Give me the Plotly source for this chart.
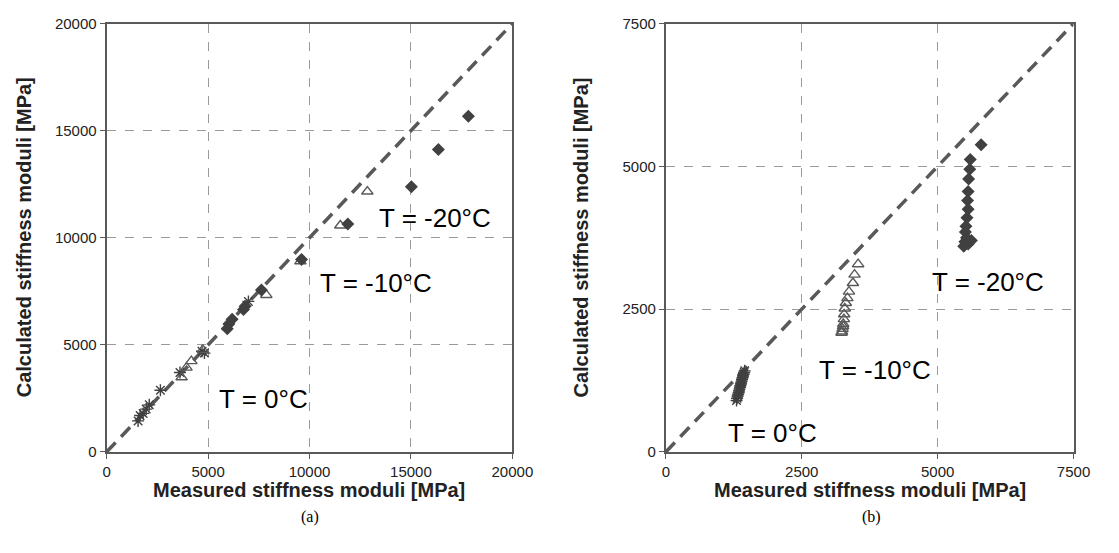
import plotly.graph_objects as go

W, H = 1119, 553

# ---------------- data (a) ----------------
meas0_a = [1550, 1650, 1800, 1950, 2100, 2650, 3614, 4700, 4819, 6988]
calc0_a = [1450, 1700, 1800, 2000, 2200, 2882, 3710, 4700, 4615, 7028]
meas10_a = [3695, 3936, 4177, 4739, 7871, 9550, 11518, 12851]
calc10_a = [3484, 3937, 4238, 4766, 7330, 8900, 10573, 12157]
meas20_a = [5944, 6024, 6185, 6747, 6827, 7631, 9606, 11888, 15020, 16353, 17831]
calc20_a = [5747, 5973, 6199, 6652, 6802, 7557, 8990, 10647, 12384, 14118, 15670]

# ---------------- data (b) ----------------
meas0_b = [1300, 1310, 1320, 1330, 1340, 1345, 1355, 1365, 1370, 1380, 1385, 1395, 1400, 1410, 1420, 1430, 1440, 1450]
calc0_b = [900, 940, 980, 1010, 1040, 1070, 1100, 1130, 1160, 1190, 1210, 1240, 1270, 1300, 1330, 1360, 1390, 1420]
meas10_b = [3232, 3240, 3250, 3260, 3263, 3275, 3280, 3291, 3311, 3340, 3369, 3441, 3471, 3537]
calc10_b = [2087, 2110, 2155, 2200, 2240, 2325, 2410, 2512, 2608, 2693, 2806, 2958, 3105, 3287]
meas20_b = [5800, 5600, 5590, 5570, 5560, 5550, 5560, 5540, 5520, 5510, 5530, 5500, 5480, 5560, 5620]
calc20_b = [5380, 5120, 4950, 4780, 4560, 4400, 4250, 4100, 3950, 3850, 3750, 3680, 3600, 3640, 3700]

range_a = [0, 20000]
range_b = [0, 7500]
ticks_a = [0, 5000, 10000, 15000, 20000]
ticks_b = [0, 2500, 5000, 7500]

xtitle = "Measured stiffness moduli [MPa]"
ytitle = "Calculated stiffness moduli [MPa]"

DARK = "#404040"
LINE = "#595959"
GRID = "#9a9a9a"

fig = go.Figure()

def add_panel(xa, ya, rng, m0, c0, m10, c10, m20, c20):
    fig.add_trace(go.Scatter(x=rng, y=rng, mode="lines", xaxis=xa, yaxis=ya,
                             line=dict(color=LINE, width=3.5, dash="13px,8px"),
                             showlegend=False, hoverinfo="skip"))
    fig.add_trace(go.Scatter(x=m0, y=c0, mode="markers", xaxis=xa, yaxis=ya,
                             marker=dict(symbol="asterisk-open", size=10, color=DARK,
                                         line=dict(color=DARK, width=1.4)),
                             showlegend=False))
    fig.add_trace(go.Scatter(x=m10, y=c10, mode="markers", xaxis=xa, yaxis=ya,
                             marker=dict(symbol="triangle-up-open", size=10, color=LINE,
                                         line=dict(color=LINE, width=1.4)),
                             showlegend=False))
    fig.add_trace(go.Scatter(x=m20, y=c20, mode="markers", xaxis=xa, yaxis=ya,
                             marker=dict(symbol="diamond", size=10, color=DARK,
                                         line=dict(width=0)),
                             showlegend=False))

add_panel("x", "y", range_a, meas0_a, calc0_a, meas10_a, calc10_a, meas20_a, calc20_a)
add_panel("x2", "y2", range_b, meas0_b, calc0_b, meas10_b, calc10_b, meas20_b, calc20_b)

ytop = 1 - 15 / H
ybot = 1 - 457 / H

axis_common = dict(showline=True, linecolor=LINE, linewidth=2, mirror=True,
                   showgrid=True, gridcolor=GRID, griddash="dash", gridwidth=1.2,
                   zeroline=False, ticks="outside", ticklen=5, tickcolor=LINE,
                   tickformat="d",
                   tickfont=dict(family="Liberation Sans, Arial", size=15, color="#222222"))

fig.update_layout(
    width=W, height=H,
    margin=dict(l=0, r=0, t=0, b=0),
    paper_bgcolor="white", plot_bgcolor="white",
    xaxis=dict(domain=[105 / W, 520 / W], range=range_a, tickvals=ticks_a, anchor="y", **axis_common),
    yaxis=dict(domain=[ybot, ytop], range=range_a, tickvals=ticks_a, anchor="x", **axis_common),
    xaxis2=dict(domain=[677 / W, 1094 / W], range=range_b, tickvals=ticks_b, anchor="y2", **axis_common),
    yaxis2=dict(domain=[ybot, ytop], range=range_b, tickvals=ticks_b, anchor="x2", **axis_common),
)

ann_font = dict(family="Liberation Sans, Arial", size=26, color="black")
title_font = dict(family="Liberation Sans, Arial", size=20, color="#222222")
sub_font = dict(family="Liberation Serif, Times New Roman", size=16, color="black")

labels_a = [("T = 0°C", 7711, 2466), ("T = -10°C", 13253, 7873), ("T = -20°C", 16193, 10905)]
labels_b = [("T = 0°C", 1960, 331), ("T = -10°C", 3849, 1442), ("T = -20°C", 5935, 2969)]

annotations = []
for t, x, y in labels_a:
    annotations.append(dict(text=t, x=x, y=y, xref="x", yref="y", showarrow=False, font=ann_font))
for t, x, y in labels_b:
    annotations.append(dict(text=t, x=x, y=y, xref="x2", yref="y2", showarrow=False, font=ann_font))

for cx in (312, 886):
    annotations.append(dict(text="<b>" + xtitle + "</b>", x=cx / W, y=1 - 496 / H, xref="paper", yref="paper",
                            showarrow=False, font=title_font, xanchor="center", yanchor="middle"))
for cx in (20, 590):
    annotations.append(dict(text="<b>" + ytitle + "</b>", x=cx / W, y=1 - 236 / H, xref="paper", yref="paper",
                            showarrow=False, font=title_font, textangle=-90, xanchor="center", yanchor="middle"))
for t, cx in (("(a)", 313), ("(b)", 887)):
    annotations.append(dict(text=t, x=cx / W, y=1 - 524 / H, xref="paper", yref="paper",
                            showarrow=False, font=sub_font, xanchor="center", yanchor="middle"))

fig.update_layout(annotations=annotations)

fig.write_html("out.html")
